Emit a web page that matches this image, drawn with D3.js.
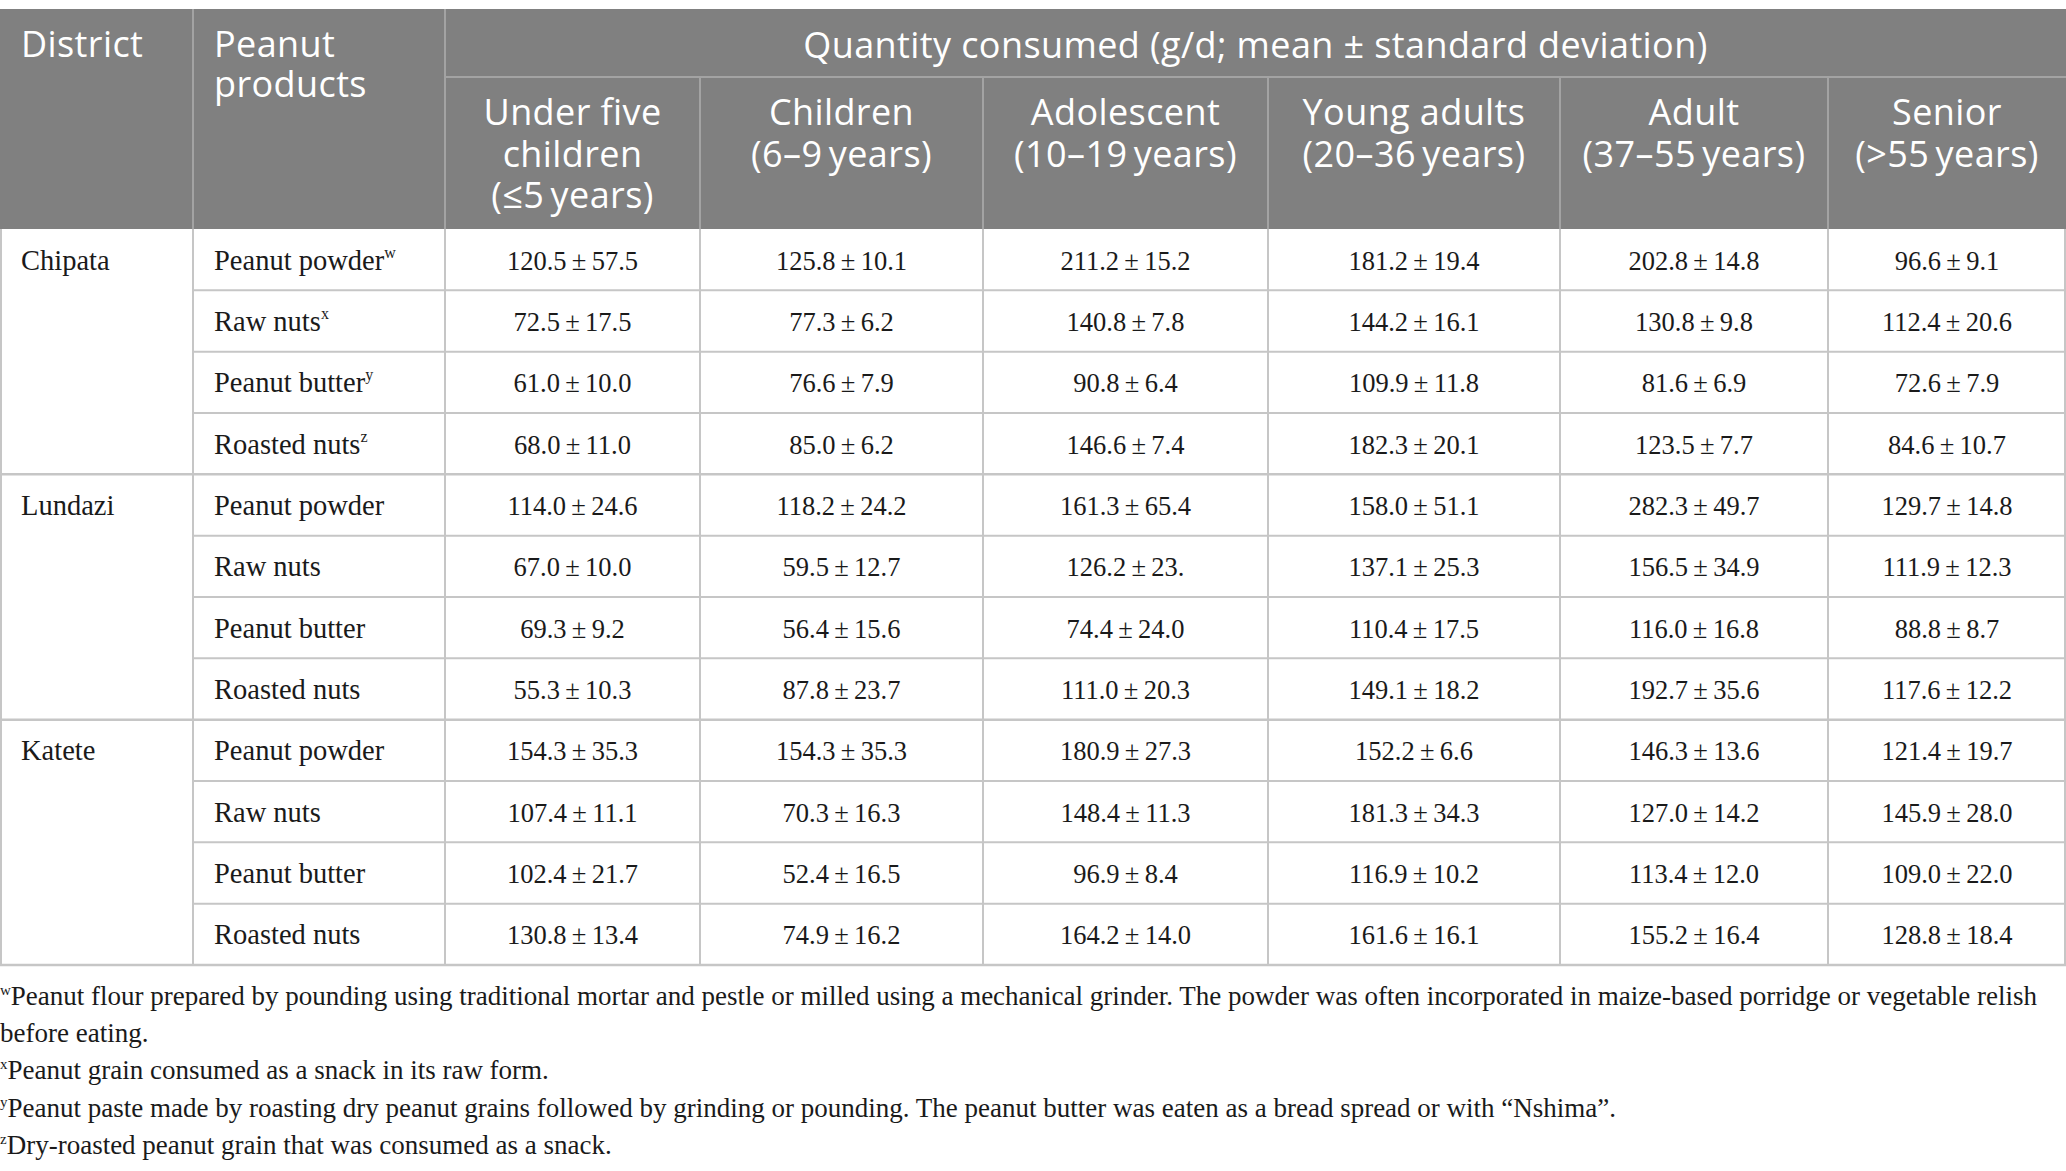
<!DOCTYPE html>
<html lang="en">
<head>
    <meta charset="UTF-8">
    <title>Peanut consumption table</title>
    <style>
        body {
            margin: 0;
            background: #ffffff;
        }
    </style>
</head>
<body>
    <div class="vis"><svg width="2066" height="1171"></svg></div>
    <script src="https://cdnjs.cloudflare.com/ajax/libs/d3/7.8.5/d3.min.js"></script>
    <script>
        // table content
        var districts = ["Chipata", "Lundazi", "Katete"];
        var products = ["Peanut powder", "Raw nuts", "Peanut butter", "Roasted nuts"];
        var productNotes = ["w", "x", "y", "z"];   // only shown on the first district
        var groupTitle = "Quantity consumed (g/d; mean \u00b1 standard deviation)";
        var ageGroups = [
            ["Under five", "children", "(\u22645\u2009years)"],
            ["Children", "(6\u20139\u2009years)"],
            ["Adolescent", "(10\u201319\u2009years)"],
            ["Young adults", "(20\u201336\u2009years)"],
            ["Adult", "(37\u201355\u2009years)"],
            ["Senior", "(>55\u2009years)"]
        ];

        // means / sd per district, rows = products, cols = age groups (kept as printed)
        var chipataMean = [
            ["120.5", "125.8", "211.2", "181.2", "202.8", "96.6"],
            ["72.5", "77.3", "140.8", "144.2", "130.8", "112.4"],
            ["61.0", "76.6", "90.8", "109.9", "81.6", "72.6"],
            ["68.0", "85.0", "146.6", "182.3", "123.5", "84.6"]
        ];
        var chipataSd = [
            ["57.5", "10.1", "15.2", "19.4", "14.8", "9.1"],
            ["17.5", "6.2", "7.8", "16.1", "9.8", "20.6"],
            ["10.0", "7.9", "6.4", "11.8", "6.9", "7.9"],
            ["11.0", "6.2", "7.4", "20.1", "7.7", "10.7"]
        ];
        var lundaziMean = [
            ["114.0", "118.2", "161.3", "158.0", "282.3", "129.7"],
            ["67.0", "59.5", "126.2", "137.1", "156.5", "111.9"],
            ["69.3", "56.4", "74.4", "110.4", "116.0", "88.8"],
            ["55.3", "87.8", "111.0", "149.1", "192.7", "117.6"]
        ];
        var lundaziSd = [
            ["24.6", "24.2", "65.4", "51.1", "49.7", "14.8"],
            ["10.0", "12.7", "23.", "25.3", "34.9", "12.3"],
            ["9.2", "15.6", "24.0", "17.5", "16.8", "8.7"],
            ["10.3", "23.7", "20.3", "18.2", "35.6", "12.2"]
        ];
        var kateteMean = [
            ["154.3", "154.3", "180.9", "152.2", "146.3", "121.4"],
            ["107.4", "70.3", "148.4", "181.3", "127.0", "145.9"],
            ["102.4", "52.4", "96.9", "116.9", "113.4", "109.0"],
            ["130.8", "74.9", "164.2", "161.6", "155.2", "128.8"]
        ];
        var kateteSd = [
            ["35.3", "35.3", "27.3", "6.6", "13.6", "19.7"],
            ["11.1", "16.3", "11.3", "34.3", "14.2", "28.0"],
            ["21.7", "16.5", "8.4", "10.2", "12.0", "22.0"],
            ["13.4", "16.2", "14.0", "16.1", "16.4", "18.4"]
        ];
        var footnotes = [
            ["w", "Peanut flour prepared by pounding using traditional mortar and pestle or milled using a mechanical grinder. The powder was often incorporated in maize-based porridge or vegetable relish"],
            ["", "before eating."],
            ["x", "Peanut grain consumed as a snack in its raw form."],
            ["y", "Peanut paste made by roasting dry peanut grains followed by grinding or pounding. The peanut butter was eaten as a bread spread or with \u201cNshima\u201d."],
            ["z", "Dry-roasted peanut grain that was consumed as a snack."]
        ];

        var means = [chipataMean, lundaziMean, kateteMean];
        var sds = [chipataSd, lundaziSd, kateteSd];

        var svg = d3.select('.vis svg');
        var W = 2066;
        var sans = "'Open Sans', 'Noto Sans', sans-serif";
        var serif = "'Liberation Serif', 'DejaVu Serif', serif";
        var headFill = "#808080";
        var headLine = "#a3a3a3";
        var bodyLine = "#c6c6c6";

        var colKeys = ["district", "product", 0, 1, 2, 3, 4, 5];
        var colEdges = [0, 193, 445, 700, 983, 1268, 1560, 1828, 2066];
        var xLeft = d3.scaleOrdinal().domain(colKeys).range(colEdges.slice(0, 8));
        var xRight = d3.scaleOrdinal().domain(colKeys).range(colEdges.slice(1));
        var xMid = k => (xLeft(k) + xRight(k)) / 2;

        var tableTop = 9, headSplit = 77, headBottom = 229, tableBottom = 965;

        // body rows
        var rows = [];
        districts.forEach((d, di) => products.forEach((p, pi) => rows.push({ di: di, pi: pi })));
        var yRow = d3.scaleBand()
            .domain(d3.range(rows.length))
            .range([headBottom, tableBottom]);

        // header background
        svg.append('rect')
            .attr('x', 0).attr('y', tableTop)
            .attr('width', W).attr('height', headBottom - tableTop)
            .attr('fill', headFill);

        // header grid
        svg.append('line')
            .attr('x1', xLeft(0)).attr('x2', W)
            .attr('y1', headSplit).attr('y2', headSplit)
            .attr('stroke', headLine).attr('stroke-width', 2);
        svg.selectAll('line.hv')
            .data(colKeys.slice(1))
            .enter()
            .append('line')
            .attr('class', 'hv')
            .attr('x1', d => xLeft(d)).attr('x2', d => xLeft(d))
            .attr('y1', d => (typeof d === 'number' && d > 0) ? headSplit : tableTop)
            .attr('y2', headBottom)
            .attr('stroke', headLine).attr('stroke-width', 2);

        // header text
        var head = svg.append('g')
            .attr('font-family', sans)
            .attr('font-size', 36)
            .attr('letter-spacing', 0.4)
            .attr('fill', '#ffffff');
        head.append('text').attr('x', 21).attr('y', 57).text("District");
        head.append('text').attr('x', xLeft("product") + 21).attr('y', 57).text("Peanut");
        head.append('text').attr('x', xLeft("product") + 21).attr('y', 97).text("products");
        head.append('text')
            .attr('x', (xLeft(0) + W) / 2).attr('y', 58)
            .attr('text-anchor', 'middle')
            .text(groupTitle);
        head.selectAll('text.age')
            .data(ageGroups)
            .enter()
            .append('text')
            .attr('class', 'age')
            .attr('text-anchor', 'middle')
            .selectAll('tspan')
            .data((d, i) => d.map(s => ({ s: s, col: i })))
            .enter()
            .append('tspan')
            .attr('x', d => xMid(d.col))
            .attr('y', (d, j) => 125 + j * 41.5)
            .text(d => d.s);

        // body grid: horizontal row lines
        svg.selectAll('line.row')
            .data(rows.slice(1))
            .enter()
            .append('line')
            .attr('class', 'row')
            .attr('x1', d => d.pi === 0 ? 0 : xLeft("product"))
            .attr('x2', W)
            .attr('y1', (d, i) => yRow(i + 1)).attr('y2', (d, i) => yRow(i + 1))
            .attr('stroke', bodyLine)
            .attr('stroke-width', d => d.pi === 0 ? 2.5 : 2);
        svg.append('line')
            .attr('x1', 0).attr('x2', W)
            .attr('y1', tableBottom).attr('y2', tableBottom)
            .attr('stroke', bodyLine).attr('stroke-width', 2.5);
        svg.selectAll('line.bv')
            .data(colKeys.slice(1).concat(["end"]))
            .enter()
            .append('line')
            .attr('class', 'bv')
            .attr('x1', d => d === "end" ? W - 1 : xLeft(d))
            .attr('x2', d => d === "end" ? W - 1 : xLeft(d))
            .attr('y1', headBottom).attr('y2', tableBottom)
            .attr('stroke', bodyLine).attr('stroke-width', 2);
        svg.append('line')
            .attr('x1', 1).attr('x2', 1)
            .attr('y1', headBottom).attr('y2', tableBottom)
            .attr('stroke', bodyLine).attr('stroke-width', 2);

        // body text
        var body = svg.append('g')
            .attr('font-family', serif)
            .attr('font-size', 28.5)
            .attr('fill', '#1a1a1a');
        var baseOff = yRow.bandwidth() / 2 + 10;

        body.selectAll('text.district')
            .data(districts)
            .enter()
            .append('text')
            .attr('class', 'district')
            .attr('x', 21)
            .attr('y', (d, i) => yRow(i * products.length) + baseOff)
            .text(d => d);

        var prod = body.selectAll('text.product')
            .data(rows)
            .enter()
            .append('text')
            .attr('class', 'product')
            .attr('x', xLeft("product") + 21)
            .attr('y', (d, i) => yRow(i) + baseOff);
        prod.append('tspan').text(d => products[d.pi]);
        prod.filter(d => d.di === 0)
            .append('tspan')
            .attr('font-size', 16)
            .attr('dy', -12)
            .text(d => productNotes[d.pi]);

        rows.forEach((r, i) => {
            body.selectAll(null)
                .data(d3.range(ageGroups.length))
                .enter()
                .append('text')
                .attr('x', c => xMid(c))
                .attr('y', yRow(i) + baseOff)
                .attr('text-anchor', 'middle')
                .attr('font-size', 26.5)
                .text(c => means[r.di][r.pi][c] + "\u2009\u00b1\u2009" + sds[r.di][r.pi][c]);
        });

        // footnotes
        var notes = svg.append('g')
            .attr('font-family', serif)
            .attr('font-size', 27)
            .attr('fill', '#1a1a1a');
        var fn = notes.selectAll('text.note')
            .data(footnotes)
            .enter()
            .append('text')
            .attr('class', 'note')
            .attr('x', 0)
            .attr('y', (d, i) => 1005 + i * 37.2);
        fn.append('tspan')
            .attr('font-size', 15)
            .attr('dy', -10)
            .text(d => d[0]);
        fn.append('tspan')
            .attr('dy', d => d[0] ? 10 : 0)
            .text(d => d[1]);
        fn.each(function () {
            var len = this.getComputedTextLength();
            if (len > 2044) {
                d3.select(this).attr('textLength', 2044).attr('lengthAdjust', 'spacingAndGlyphs');
            }
        });
    </script>
</body>
</html>
